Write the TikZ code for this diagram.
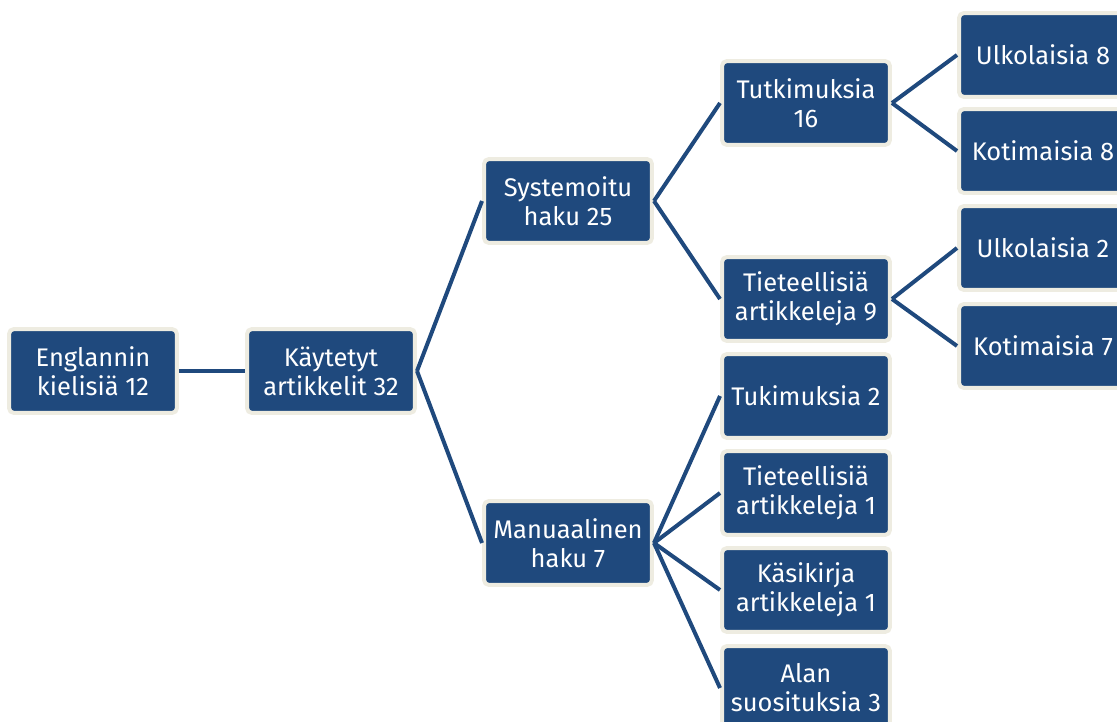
\documentclass[tikz,border=0pt]{standalone}
\usepackage{fontspec}
\setmainfont{Fira Sans}
\usepackage{xcolor}
\definecolor{boxblue}{RGB}{31,73,125}
\definecolor{boxrim}{RGB}{238,236,225}

\begin{document}
\begin{tikzpicture}[x=0.02cm,y=-0.02cm,
  font=\fontsize{14.5}{16.5}\selectfont,
  box/.style={draw=boxrim,fill=boxblue,line width=0.08cm,rounded corners=0.1cm,
    text=white,align=center,minimum width=3.36cm,minimum height=1.68cm,inner sep=0pt},
  link/.style={draw=boxblue,line width=0.08cm}]
\useasboundingbox (0,0) rectangle (1117,722);
% columns
\node[box] (eng) at (93,371) {Englannin\\kielisiä 12};
\node[box] (kay) at (331,371) {Käytetyt\\artikkelit 32};
\node[box] (sys) at (568,201) {Systemoitu\\haku 25};
\node[box] (man) at (568,543) {Manuaalinen\\haku 7};
\node[box] (tut) at (806,103) {Tutkimuksia\\16};
\node[box] (tie) at (806,299) {Tieteellisiä\\artikkeleja 9};
\node[box] (tuk) at (806,396) {Tukimuksia 2};
\node[box] (tiek) at (806,493) {Tieteellisiä\\artikkeleja 1};
\node[box] (kas) at (806,590) {Käsikirja\\artikkeleja 1};
\node[box] (alan) at (806,688) {Alan\\suosituksia 3};
\node[box] (ulka) at (1043,55) {Ulkolaisia 8};
\node[box] (kota) at (1043,151) {Kotimaisia 8};
\node[box] (ulkb) at (1043,248) {Ulkolaisia 2};
\node[box] (kotb) at (1043,346) {Kotimaisia 7};
% links
\draw[link] (eng.east) -- (kay.west);
\draw[link] (kay.east) -- (sys.west);
\draw[link] (kay.east) -- (man.west);
\draw[link] (sys.east) -- (tut.west);
\draw[link] (sys.east) -- (tie.west);
\draw[link] (man.east) -- (tuk.west);
\draw[link] (man.east) -- (tiek.west);
\draw[link] (man.east) -- (kas.west);
\draw[link] (man.east) -- (alan.west);
\draw[link] (tut.east) -- (ulka.west);
\draw[link] (tut.east) -- (kota.west);
\draw[link] (tie.east) -- (ulkb.west);
\draw[link] (tie.east) -- (kotb.west);
\end{tikzpicture}
\end{document}
